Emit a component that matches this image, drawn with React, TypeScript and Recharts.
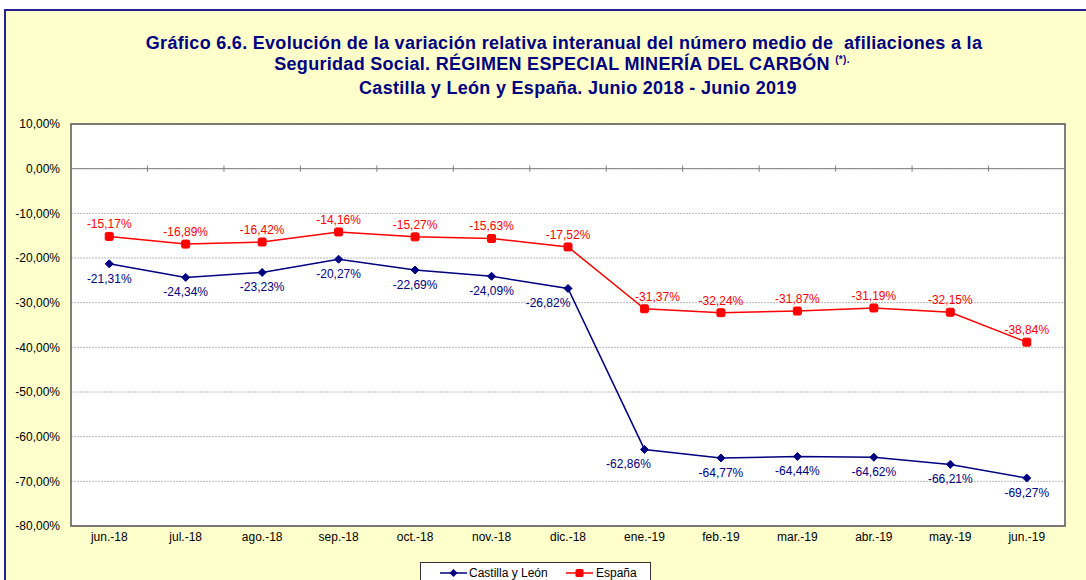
import React from 'react';
import {
  LineChart,
  Line,
  XAxis,
  YAxis,
  CartesianGrid,
  ReferenceLine,
  ReferenceArea,
  LabelList,
} from 'recharts';

const months = [
  'jun.-18', 'jul.-18', 'ago.-18', 'sep.-18', 'oct.-18', 'nov.-18', 'dic.-18',
  'ene.-19', 'feb.-19', 'mar.-19', 'abr.-19', 'may.-19', 'jun.-19',
];
const castillaLeon = [
  -21.31, -24.34, -23.23, -20.27, -22.69, -24.09, -26.82,
  -62.86, -64.77, -64.44, -64.62, -66.21, -69.27,
];
const espana = [
  -15.17, -16.89, -16.42, -14.16, -15.27, -15.63, -17.52,
  -31.37, -32.24, -31.87, -31.19, -32.15, -38.84,
];
const yTicks = [10, 0, -10, -20, -30, -40, -50, -60, -70, -80];

const data = months.map((m, i) => ({ idx: i, month: m, cyl: castillaLeon[i], esp: espana[i] }));
const boundaries = months.slice(1).map((_, i) => i + 0.5);

const NAVY = '#000080';
const RED = '#FF0000';
const FONT = 'Arial, "Liberation Sans", sans-serif';

const pct = (v: number) => v.toFixed(2).replace('.', ',') + '%';

// labels that were nudged sideways in the original to clear the lines
const cylShift: Record<number, number> = { 6: -20, 7: -16 };
const espShift: Record<number, number> = { 7: 13 };

const Diamond = (props: any) => {
  const { cx, cy } = props;
  if (cx == null || cy == null) return null;
  return <path d={`M${cx},${cy - 4}L${cx + 4},${cy}L${cx},${cy + 4}L${cx - 4},${cy}Z`} fill={NAVY} stroke={NAVY} />;
};

const Square = (props: any) => {
  const { cx, cy } = props;
  if (cx == null || cy == null) return null;
  return <rect x={cx - 4} y={cy - 4} width={8} height={8} rx={1.5} fill={RED} stroke={RED} />;
};

const makeLabel = (color: string, above: boolean, shifts: Record<number, number>) => (props: any) => {
  const { x, y, value, index } = props;
  if (x == null || y == null) return null;
  const dx = shifts[index] || 0;
  return (
    <text
      x={Number(x) + dx}
      y={above ? Number(y) - 12 : Number(y) + 15}
      textAnchor="middle"
      dominantBaseline="central"
      fontSize={12}
      fontFamily={FONT}
      fill={color}
    >
      {pct(Number(value))}
    </text>
  );
};

export default function App() {
  const titleStyle: React.CSSProperties = {
    position: 'absolute',
    transform: 'translateX(-50%)',
    whiteSpace: 'nowrap',
    fontFamily: FONT,
    fontWeight: 'bold',
    fontSize: 18,
    letterSpacing: '0.3px',
    color: NAVY,
    lineHeight: '20px',
  };
  return (
    <div style={{ position: 'absolute', left: 0, top: 0, width: 1086, height: 580, overflow: 'hidden', background: '#fff' }}>
      <div
        style={{
          position: 'absolute',
          left: 4,
          top: 9,
          width: 1100,
          height: 600,
          border: '2px solid #22228a',
          background: '#FFFFCC',
        }}
      />
      <div style={{ ...titleStyle, left: 564, top: 33 }}>
        Gráfico 6.6. Evolución de la variación relativa interanual del número medio de&nbsp; afiliaciones a la
      </div>
      <div style={{ ...titleStyle, left: 562, top: 54 }}>
        Seguridad Social. RÉGIMEN ESPECIAL MINERÍA DEL CARBÓN <sup style={{ fontSize: 10, lineHeight: 0 }}>(*).</sup>
      </div>
      <div style={{ ...titleStyle, left: 578, top: 78 }}>Castilla y León y España. Junio 2018 - Junio 2019</div>

      <div style={{ position: 'absolute', left: 0, top: 0 }}>
        <LineChart
          width={1086}
          height={580}
          data={data}
          margin={{ top: 124, right: 21, bottom: 24, left: 11 }}
        >
          <CartesianGrid
            vertical={false}
            fill="#FFFFFF"
            stroke="#b8b8b8"
            strokeDasharray="2 1"
          />
          <XAxis
            dataKey="idx"
            type="number"
            domain={[-0.5, 12.5]}
            ticks={data.map((d) => d.idx)}
            tickFormatter={(v: number) => months[v]}
            interval={0}
            height={30}
            axisLine={false}
            tickLine={false}
            tick={{ fontSize: 12, fill: '#000', fontFamily: FONT }}
            tickMargin={0}
          />
          <YAxis
            domain={[-80, 10]}
            ticks={yTicks}
            width={60}
            axisLine={false}
            tickLine={false}
            tickFormatter={(v: number) => pct(v)}
            tick={{ fontSize: 12, fill: '#000', fontFamily: FONT }}
            tickMargin={5}
          />
          <ReferenceLine y={0} stroke="#808080" strokeWidth={1} />
          {boundaries.map((b) => (
            <ReferenceLine
              key={b}
              segment={[{ x: b, y: 0.7 }, { x: b, y: -0.7 }]}
              stroke="#808080"
              ifOverflow="visible"
            />
          ))}
          <ReferenceArea y1={-80} y2={10} fill="none" stroke="#555" strokeWidth={1.5} ifOverflow="visible" />
          <Line
            dataKey="cyl"
            stroke={NAVY}
            strokeWidth={1.5}
            dot={<Diamond />}
            isAnimationActive={false}
          >
            <LabelList dataKey="cyl" content={makeLabel(NAVY, false, cylShift)} />
          </Line>
          <Line
            dataKey="esp"
            stroke={RED}
            strokeWidth={1.5}
            dot={<Square />}
            isAnimationActive={false}
          >
            <LabelList dataKey="esp" content={makeLabel(RED, true, espShift)} />
          </Line>
        </LineChart>
      </div>

      <div
        style={{
          position: 'absolute',
          left: 420,
          top: 562,
          width: 229,
          height: 30,
          border: '1px solid #333',
          background: '#FFFFFF',
          fontFamily: FONT,
          fontSize: 12,
          color: '#000',
        }}
      >
        <svg width={30} height={16} style={{ position: 'absolute', left: 19, top: 2 }}>
          <line x1={0} y1={8} x2={27} y2={8} stroke={NAVY} strokeWidth={1.5} />
          <path d="M13.5,4L17.5,8L13.5,12L9.5,8Z" fill={NAVY} />
        </svg>
        <span style={{ position: 'absolute', left: 48, top: 3 }}>Castilla y León</span>
        <svg width={30} height={16} style={{ position: 'absolute', left: 145, top: 2 }}>
          <line x1={0} y1={8} x2={27} y2={8} stroke={RED} strokeWidth={1.5} />
          <rect x={9.5} y={4} width={8} height={8} rx={1.5} fill={RED} />
        </svg>
        <span style={{ position: 'absolute', left: 175, top: 3 }}>España</span>
      </div>
    </div>
  );
}
